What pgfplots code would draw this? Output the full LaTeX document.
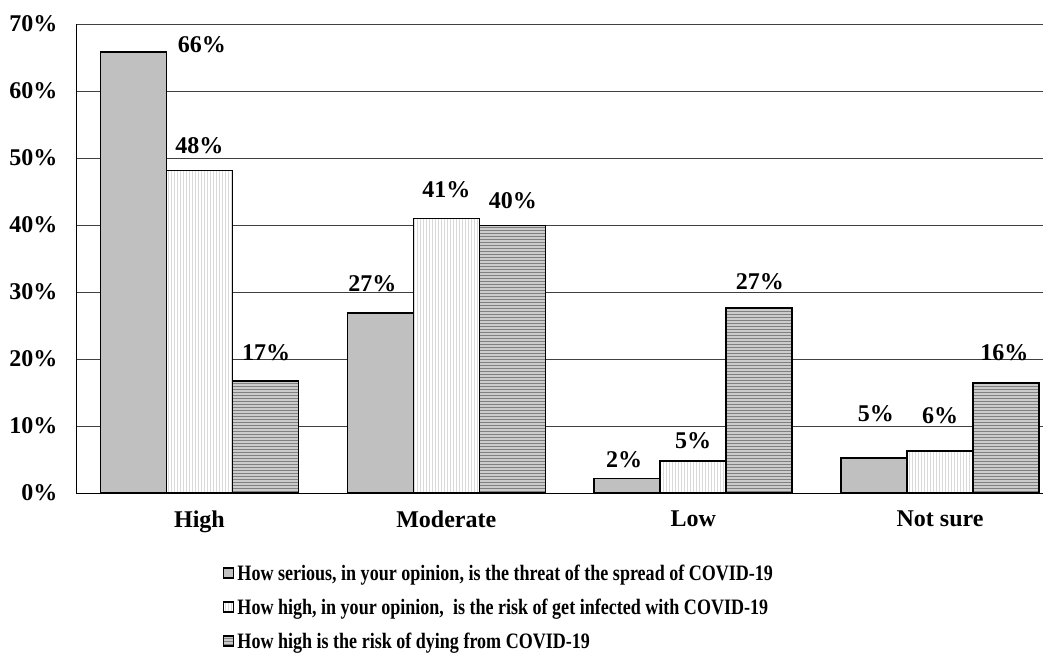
\documentclass[border=0pt]{standalone}
\usepackage{fontspec}
\setmainfont{Liberation Serif}
\newfontfamily\legfont{Liberation Serif}[FakeStretch=0.82]
\usepackage{pgfplots}
\pgfplotsset{compat=1.18}
\usetikzlibrary{patterns}
\definecolor{barA}{RGB}{192,192,192}
\begin{document}
\begin{tikzpicture}[font=\bfseries]
\begin{axis}[
  name=ax, at={(0,0)}, anchor=south west,
  scale only axis, width=967pt, height=469pt,
  xmin=-0.5, xmax=3.417, ymin=0, ymax=70,
  ybar=0pt, bar width=66pt,
  axis x line*=bottom, axis y line*=left,
  axis line style={-, line width=0.9pt, black},
  xtick={0,1,2,3}, xticklabels={High,Moderate,Low,Not sure},
  ytick={0,10,20,30,40,50,60,70},
  yticklabels={0\%,10\%,20\%,30\%,40\%,50\%,60\%,70\%},
  major tick length=0pt,
  ymajorgrids, grid style={black!75, line width=0.8pt},
  tick label style={font=\fontsize{24}{28}\selectfont\bfseries},
  yticklabel style={xshift=-15pt},
  xticklabel style={yshift=-14pt},
  /pgf/number format/assume math mode=true,
  legend image code/.code={\draw[#1, line width=1.3pt] (0pt,-5pt) rectangle (10pt,5pt);},
  legend style={at={(0.152,-0.148)}, anchor=north west, draw=none,
    font=\legfont\fontsize{22}{24}\selectfont\bfseries, row sep=13pt,
    legend cell align=left, inner sep=0pt,
    nodes={inner xsep=3pt}},
  clip=false,
]
\addplot[fill=barA, draw=black, line width=1.5pt] coordinates {(0,65.8) (1,26.9) (2,2.2) (3,5.2)};
\addplot[fill=white, draw=black, line width=1.5pt, postaction={pattern=vertical lines, pattern color=black!15}] coordinates {(0,48.1) (1,41.0) (2,4.8) (3,6.3)};
\addplot[fill=black!20, draw=black, line width=1.5pt, postaction={pattern=horizontal lines, pattern color=black!50}] coordinates {(0,16.7) (1,39.9) (2,27.6) (3,16.4)};
\legend{{How serious, in your opinion, is the threat of the spread of COVID-19},
        {How high, in your opinion,\ \ is the risk of get infected with COVID-19},
        {How high is the risk of dying from COVID-19}}
\begin{scope}[font=\fontsize{24}{28}\selectfont\bfseries]
\node at (axis cs:0.01,66.9) {66\%};
\node at (axis cs:0.0,51.9) {48\%};
\node at (axis cs:0.27,21.0) {17\%};
\node at (axis cs:0.70,31.3) {27\%};
\node at (axis cs:1.0,45.2) {41\%};
\node at (axis cs:1.27,43.7) {40\%};
\node at (axis cs:1.72,4.9) {2\%};
\node at (axis cs:2.0,7.8) {5\%};
\node at (axis cs:2.27,31.5) {27\%};
\node at (axis cs:2.74,11.8) {5\%};
\node at (axis cs:3.0,11.5) {6\%};
\node at (axis cs:3.26,20.9) {16\%};
\end{scope}
\end{axis}
\pgfresetboundingbox
\path[use as bounding box] (-76pt,-170pt) rectangle (967pt,493pt);
\end{tikzpicture}
\end{document}
